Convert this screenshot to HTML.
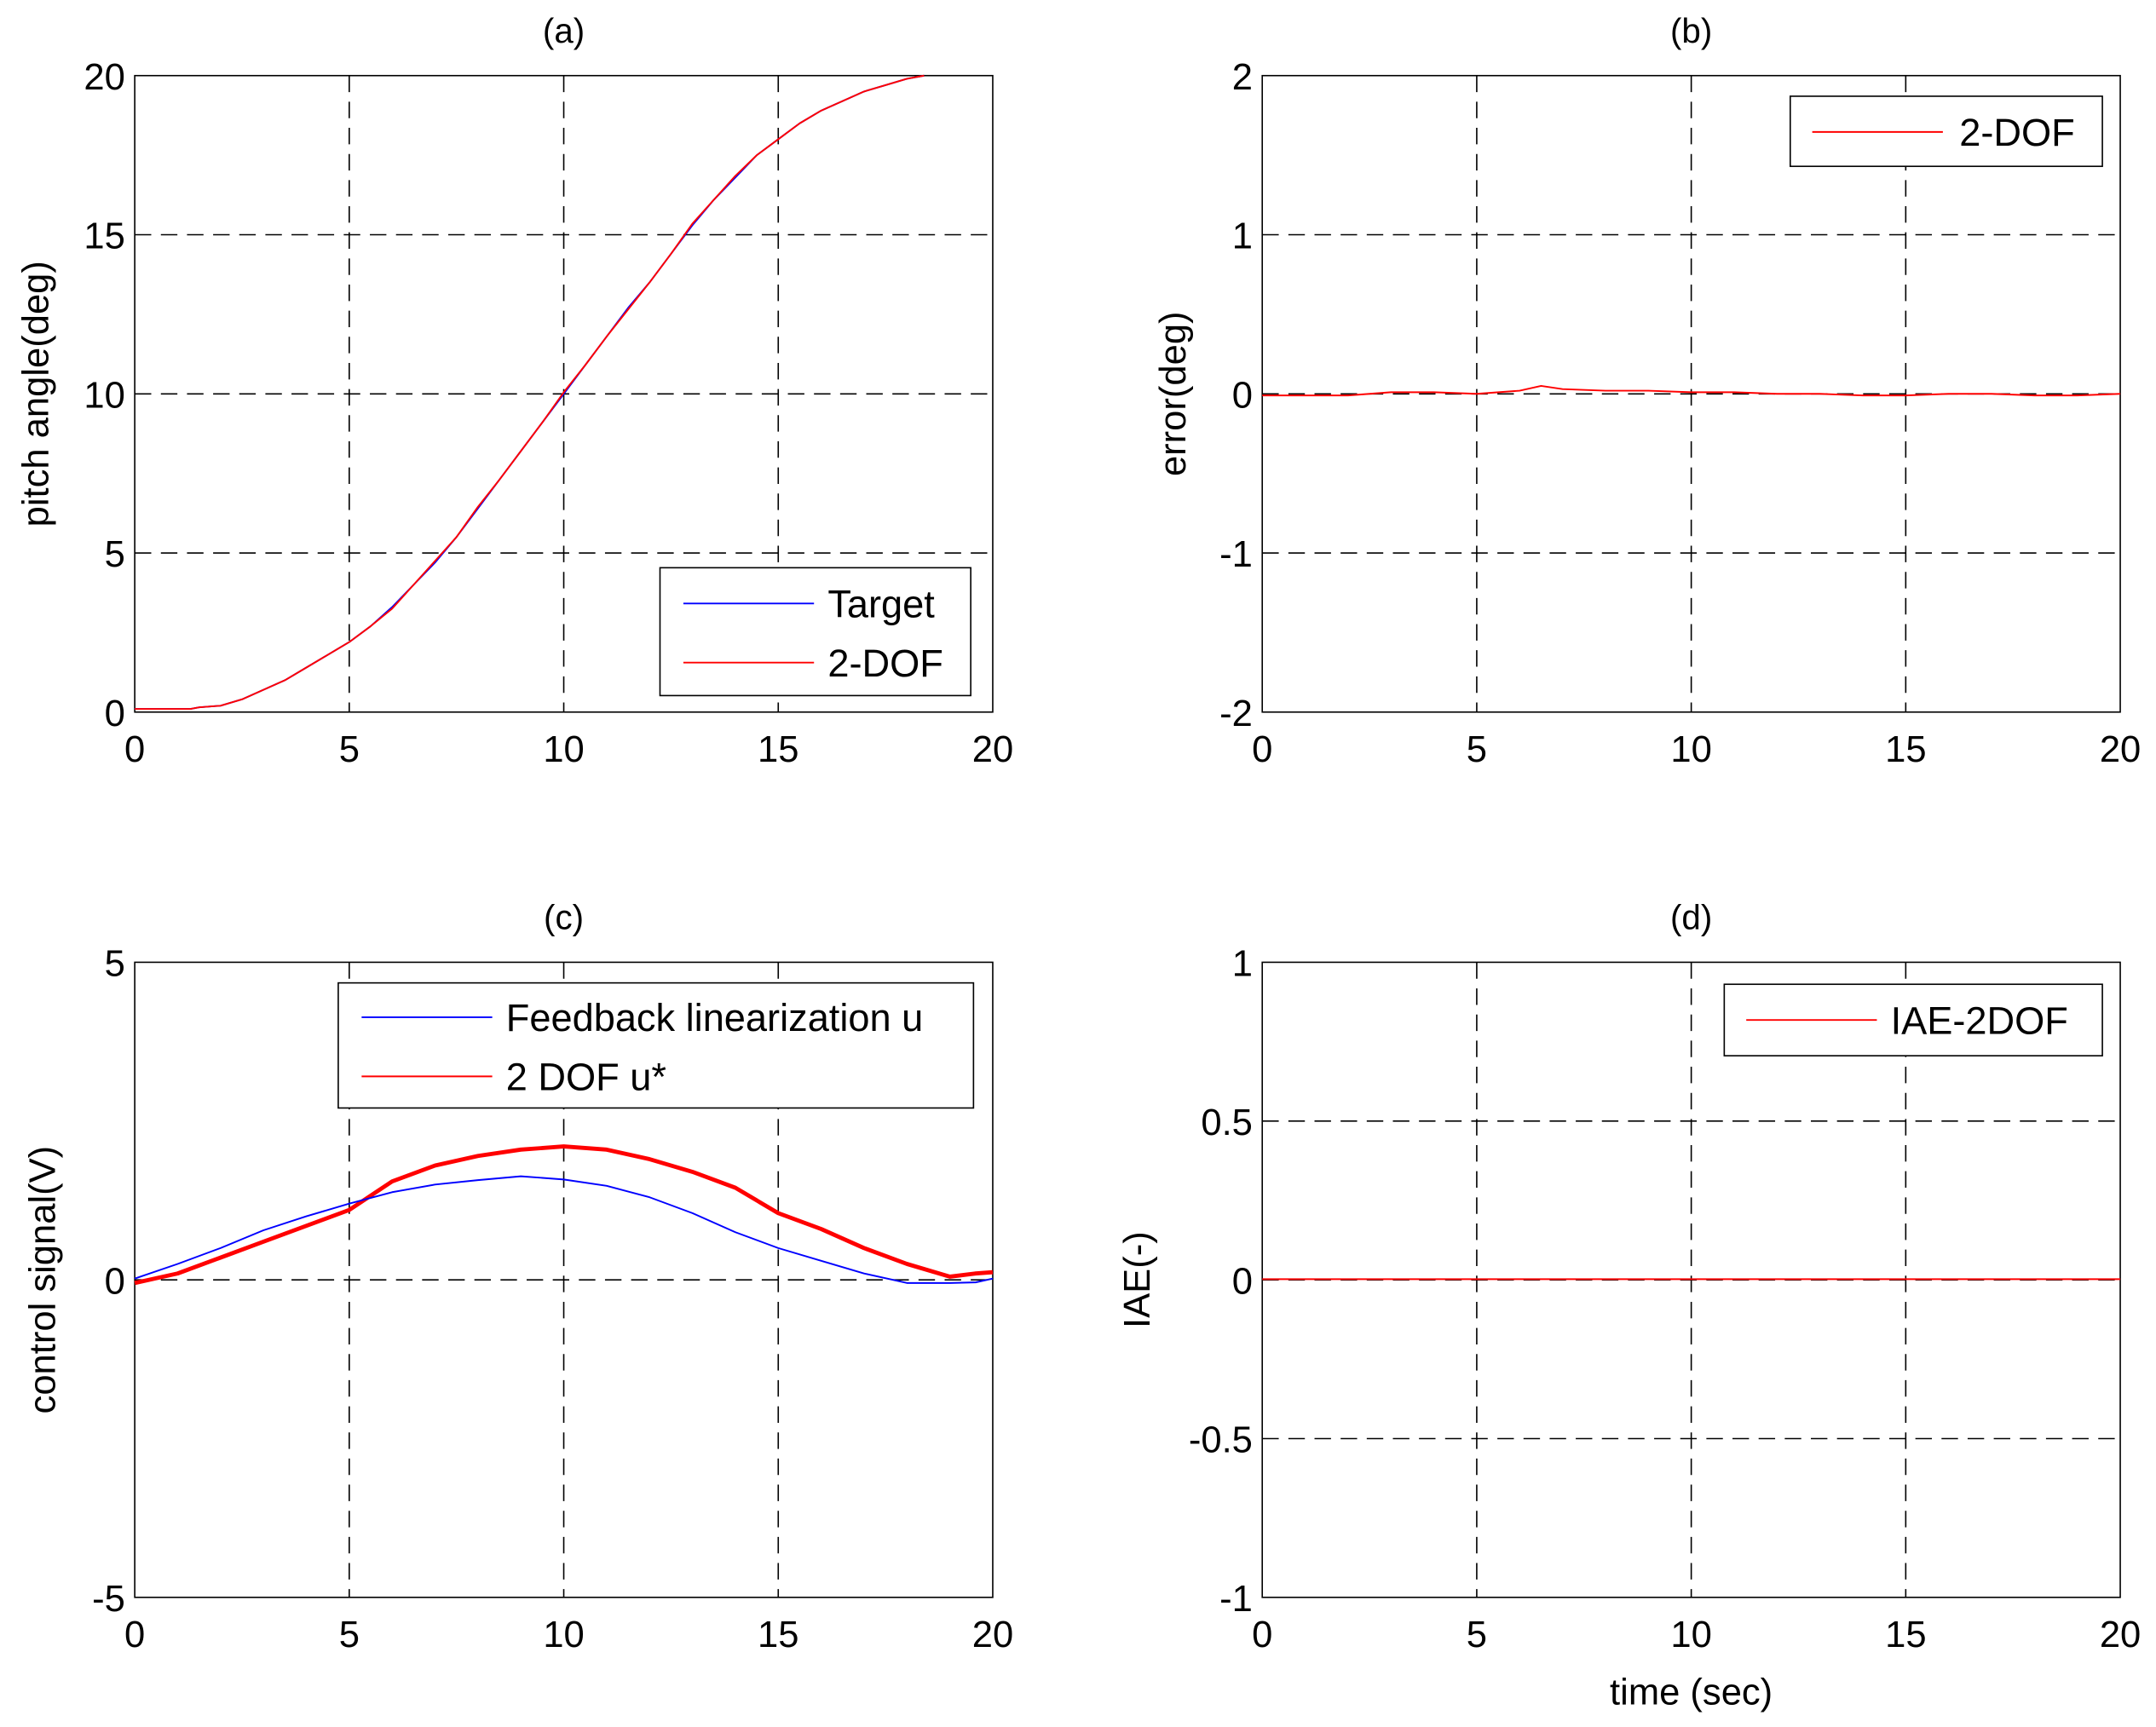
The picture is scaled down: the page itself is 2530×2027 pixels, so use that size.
<!DOCTYPE html>
<html><head><meta charset="utf-8"><style>
html,body{margin:0;padding:0;background:#fff;}
svg{display:block;font-family:"Liberation Sans",sans-serif;}
</style></head><body>
<svg id="fig" width="2530" height="2027" viewBox="0 0 1568 1256.3" preserveAspectRatio="none" xmlns="http://www.w3.org/2000/svg"></svg>
<script>
// ---- data ----
const tA = [0,1,1.3,1.5,2,2.5,3,3.5,4,4.5,5,5.5,6,6.5,7,7.5,8,8.5,9,9.5,10,10.5,11,11.5,12,12.5,13,13.5,14,14.5,15,15.5,16,16.5,17,17.5,18,18.4];
const targetA = [0.1,0.1,0.1,0.15,0.2,0.4,0.7,1.0,1.4,1.8,2.2,2.7,3.3,4.0,4.7,5.5,6.4,7.3,8.2,9.1,10,10.9,11.8,12.7,13.5,14.4,15.3,16.1,16.8,17.5,18,18.5,18.9,19.2,19.5,19.7,19.9,20];
const dofA = [0.1,0.1,0.1,0.15,0.2,0.4,0.7,1.0,1.4,1.8,2.2,2.7,3.25,4.0,4.75,5.5,6.45,7.3,8.2,9.1,10.05,10.9,11.8,12.65,13.5,14.4,15.35,16.1,16.85,17.5,18,18.5,18.9,19.2,19.5,19.7,19.9,20];
const tB = [0,1,2,3,4,5,6,6.5,7,8,9,10,11,12,13,14,15,16,17,18,19,20];
const errB = [-0.01,-0.01,-0.01,0.01,0.01,0,0.02,0.05,0.03,0.02,0.02,0.01,0.01,0,0,-0.01,-0.01,0,0,-0.01,-0.01,0];
const tC = [0,1,2,3,4,5,6,7,8,9,10,11,12,13,14,15,16,17,18,19,19.6,20];
const fbC = [0.02,0.25,0.5,0.78,1.0,1.2,1.38,1.5,1.57,1.63,1.58,1.48,1.3,1.05,0.75,0.5,0.3,0.1,-0.05,-0.05,-0.04,0.02];
const dofC = [-0.05,0.1,0.35,0.6,0.85,1.1,1.55,1.8,1.95,2.05,2.1,2.05,1.9,1.7,1.45,1.05,0.8,0.5,0.25,0.05,0.1,0.12];
const tD = [0,20];
const iaeD = [0.002,0.002];
const xTicks = [0,5,10,15,20];
const yTicksA = [0,5,10,15,20];
const yTicksB = [-2,-1,0,1,2];
const yTicksC = [-5,0,5];
const yTicksD = [-1,-0.5,0,0.5,1];

const svg = document.getElementById('fig');
const NS = 'http://www.w3.org/2000/svg';
function mk(tag, attrs, parent){const e=document.createElementNS(NS,tag);for(const k in attrs)e.setAttribute(k,attrs[k]);(parent||svg).appendChild(e);return e;}

function panel(id, box, xr, yr, yTicks, gridY, title, ylabel, ylabX){
  const g = mk('g',{});
  
  
  const [x0,y0,x1,y1]=box;
  const sx=v=>x0+(v-xr[0])/(xr[1]-xr[0])*(x1-x0);
  const sy=v=>y1-(v-yr[0])/(yr[1]-yr[0])*(y1-y0);
  mk('rect',{x:x0,y:y0,width:x1-x0,height:y1-y0,fill:'#fff',stroke:'none'},g);
  xTicks.slice(1,-1).forEach(v=>{const l=mk('line',{x1:sx(v),x2:sx(v),y1:y0,y2:y1,stroke:'#000','stroke-width':1,'stroke-dasharray':'12,7'},g);});
  gridY.forEach(v=>{const l=mk('line',{x1:x0,x2:x1,y1:sy(v),y2:sy(v),stroke:'#000','stroke-width':1,'stroke-dasharray':'12,7'},g);});
  const fr=mk('rect',{x:x0,y:y0,width:x1-x0,height:y1-y0,fill:'none',stroke:'#000','stroke-width':1},g);
  
  xTicks.forEach(v=>{const t=mk('text',{x:sx(v),y:y1+36,'text-anchor':'middle','font-size':27},g);t.textContent=v;});
  yTicks.forEach(v=>{const t=mk('text',{x:x0-7,y:sy(v)+10,'text-anchor':'end','font-size':27},g);t.textContent=v;});
  const tt=mk('text',{x:(x0+x1)/2,y:y0-24,'text-anchor':'middle','font-size':25},g);tt.textContent=title;
  
  const yl=mk('text',{x:0,y:0,'text-anchor':'middle','font-size':27,transform:`translate(${ylabX},${(y0+y1)/2}) rotate(-90)`},g);yl.textContent=ylabel;
  
  return {g,sx,sy};
}
function series(p, xs, ys, color, w, name){
  const d=xs.map((x,i)=>(i?'L':'M')+p.sx(x).toFixed(2)+','+p.sy(ys[i]).toFixed(2)).join(' ');
  const e=mk('path',{d,fill:'none',stroke:color,'stroke-width':w,'stroke-linejoin':'round'},p.g);
  
}
function legend(g, box, items, fs){
  const [x,y,w,h]=box;
  const lg=mk('g',{},g);
  
  mk('rect',{x,y,width:w,height:h,fill:'#fff',stroke:'#000','stroke-width':1},lg);
  items.forEach((it,i)=>{
    const cy=it.y;
    mk('line',{x1:it.lx1,x2:it.lx2,y1:cy,y2:cy,stroke:it.c,'stroke-width':1.2},lg);
    const t=mk('text',{x:it.tx,y:cy+10,'font-size':fs},lg);t.textContent=it.label;
    
  });
}

const pA=panel('a',[98,55,722,518],[0,20],[0,20],yTicksA,[5,10,15],'(a)','pitch angle(deg)',35);
series(pA,tA,targetA,'#0000ff',1.2,'target-line');
series(pA,tA,dofA,'#ff0000',1.2,'dof-line');
legend(pA.g,[480,413,226,93],[{y:439,lx1:497,lx2:592,tx:602,c:'#0000ff',label:'Target'},{y:482,lx1:497,lx2:592,tx:602,c:'#ff0000',label:'2-DOF'}],28);

const pB=panel('b',[918,55,1542,518],[0,20],[-2,2],yTicksB,[-1,0,1],'(b)','error(deg)',862);
series(pB,tB,errB,'#ff0000',1.2,'error-line');
legend(pB.g,[1302,70,227,51],[{y:96,lx1:1318,lx2:1413,tx:1425,c:'#ff0000',label:'2-DOF'}],28);

const pC=panel('c',[98,700,722,1162],[0,20],[-5,5],yTicksC,[0],'(c)','control signal(V)',40);
series(pC,tC,dofC,'#ff0000',3,'dof-u-line');
series(pC,tC,fbC,'#0000ff',1.2,'feedback-u-line');
legend(pC.g,[246,715,462,91],[{y:740,lx1:263,lx2:358,tx:368,c:'#0000ff',label:'Feedback linearization u'},{y:783,lx1:263,lx2:358,tx:368,c:'#ff0000',label:'2 DOF u*'}],28);

const pD=panel('d',[918,700,1542,1162],[0,20],[-1,1],yTicksD,[-0.5,0,0.5],'(d)','IAE(-)',836);
series(pD,tD,iaeD,'#ff0000',1.2,'iae-line');
legend(pD.g,[1254,716,275,52],[{y:742,lx1:1270,lx2:1365,tx:1375,c:'#ff0000',label:'IAE-2DOF'}],28);
const xl=mk('text',{x:1230,y:1240,'text-anchor':'middle','font-size':27});xl.textContent='time (sec)';


</script>
</body></html>
